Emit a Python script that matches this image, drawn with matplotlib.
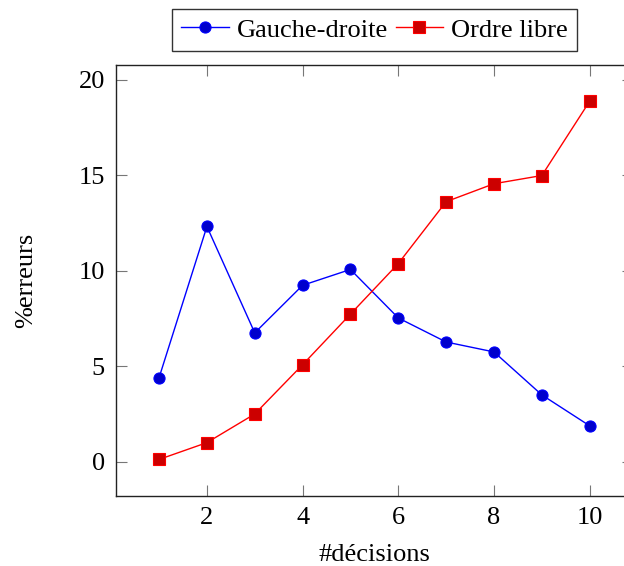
import matplotlib
matplotlib.use("Agg")
import matplotlib.pyplot as plt
import matplotlib as mpl

mpl.rcParams['font.family'] = 'Liberation Serif'
mpl.rcParams['font.size'] = 19

# Data
decisions = [1, 2, 3, 4, 5, 6, 7, 8, 9, 10]
gauche_droite = [4.4, 12.32, 6.75, 9.24, 10.07, 7.53, 6.27, 5.75, 3.5, 1.88]
ordre_libre = [0.12, 1.0, 2.5, 5.08, 7.73, 10.38, 13.62, 14.56, 14.99, 18.88]
x_ticks = [2, 4, 6, 8, 10]
y_ticks = [0, 5, 10, 15, 20]


def main():
    fig = plt.figure(figsize=(6.24, 5.66), dpi=100)
    ax = fig.add_axes([0.1859, 0.1242, 0.8281, 0.761])

    ax.plot(decisions, gauche_droite, color='#0000FF', linewidth=1.0,
            marker='o', markersize=8, markerfacecolor='#0000CC',
            markeredgecolor='#0000FF', markeredgewidth=0.8,
            label='Gauche-droite', zorder=3)
    ax.plot(decisions, ordre_libre, color='#FF0000', linewidth=1.0,
            marker='s', markersize=8, markerfacecolor='#CC0000',
            markeredgecolor='#FF0000', markeredgewidth=0.8,
            label='Ordre libre', zorder=3)

    ax.set_xlim(0.1, 10.9)
    ax.set_ylim(-1.78, 20.78)
    ax.set_xticks(x_ticks)
    ax.set_yticks(y_ticks)
    ax.tick_params(direction='in', length=8, width=0.8, color='#777777',
                   top=True, right=True, labelsize=19, pad=8)
    for sp in ax.spines.values():
        sp.set_linewidth(1.0)
        sp.set_color('#222222')

    ax.set_xlabel('#décisions', fontsize=19, labelpad=11)
    ax.set_ylabel('%erreurs', fontsize=19, labelpad=30)

    leg = fig.legend(loc='center', bbox_to_anchor=(374.5 / 624, 1 - 30 / 566),
                     ncol=2, frameon=True, fancybox=False, fontsize=19,
                     handlelength=1.8, handletextpad=0.3, columnspacing=0.3,
                     borderpad=0.35, borderaxespad=0)
    leg.get_frame().set_edgecolor('black')
    leg.get_frame().set_linewidth(1.0)

    fig.savefig('out.png', dpi=100)


if __name__ == '__main__':
    main()
